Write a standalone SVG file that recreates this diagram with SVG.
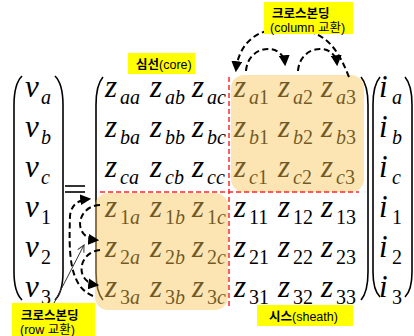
<svg xmlns="http://www.w3.org/2000/svg" width="414" height="336" viewBox="0 0 414 336">
<style>
.m{font-family:"Liberation Serif","DejaVu Serif",serif;font-style:italic;font-size:31px;fill:#000}
.s{font-size:20px}
.d{font-style:normal}
.par{fill:none;stroke:#000;stroke-width:1.6}
.lbl{fill:#FFFF00}
.kt{font-family:"Liberation Sans","Noto Sans CJK KR",sans-serif;font-size:12.5px;fill:#000}
.b{font-weight:bold}
.ov{fill:#F8C554;fill-opacity:0.45}
.red{stroke:#FF2A2A;stroke-width:1.5;stroke-dasharray:5,3;fill:none}
.da{fill:none;stroke:#000;stroke-width:2;stroke-dasharray:6,3.5}
</style>
<defs>
<marker id="ah" markerUnits="userSpaceOnUse" markerWidth="11" markerHeight="11" refX="8" refY="5" orient="auto" viewBox="0 0 10 10">
<path d="M0,0 L10,5 L0,10 z" fill="#000" stroke="none"/>
</marker>
<marker id="oh" markerUnits="userSpaceOnUse" markerWidth="8" markerHeight="8" refX="7" refY="4" orient="auto" viewBox="0 0 8 8">
<path d="M0,0.5 L7,4 L0,7.5" fill="none" stroke="#333" stroke-width="1"/>
</marker>
</defs>
<rect width="414" height="336" fill="#fff"/>

<g id="v-vector">
<path class="par" d="M22,76 C16,82 14,92 14,105 L14,272 C14,285 16,294 22,300"/>
<path class="par" d="M55,76 C61,82 63,92 63,105 L63,272 C63,285 61,294 55,300"/>
<text class="m" x="25" y="97">v<tspan class="s" x="41" y="104">a</tspan></text>
<text class="m" x="25" y="137">v<tspan class="s" x="41" y="144">b</tspan></text>
<text class="m" x="25" y="177">v<tspan class="s" x="41" y="184">c</tspan></text>
<text class="m" x="25" y="217">v<tspan class="s d" x="41" y="224">1</tspan></text>
<text class="m" x="25" y="257">v<tspan class="s d" x="41" y="264">2</tspan></text>
<text class="m" x="25" y="297">v<tspan class="s d" x="41" y="304">3</tspan></text>
</g>

<g id="equals">
<line x1="65" y1="186" x2="85" y2="186" stroke="#000" stroke-width="1.6"/>
<line x1="65" y1="192" x2="85" y2="192" stroke="#000" stroke-width="1.6"/>
</g>

<g id="z-matrix">
<path class="par" d="M103,77 Q96,85 96,105 L96,272 Q96,292 103,300"/>
<path class="par" d="M361,77 Q368,85 368,105 L368,272 Q368,292 361,300"/>
<text class="m" x="105" y="97">z<tspan class="s" x="120" y="104">aa</tspan></text>
<text class="m" x="150" y="97">z<tspan class="s" x="165" y="104">ab</tspan></text>
<text class="m" x="192" y="97">z<tspan class="s" x="207" y="104">ac</tspan></text>
<text class="m" x="234" y="97">z<tspan class="s" x="249" y="104">a<tspan class="d">1</tspan></tspan></text>
<text class="m" x="278" y="97">z<tspan class="s" x="293" y="104">a<tspan class="d">2</tspan></tspan></text>
<text class="m" x="321" y="97">z<tspan class="s" x="336" y="104">a<tspan class="d">3</tspan></tspan></text>

<text class="m" x="105" y="137">z<tspan class="s" x="120" y="144">ba</tspan></text>
<text class="m" x="150" y="137">z<tspan class="s" x="165" y="144">bb</tspan></text>
<text class="m" x="192" y="137">z<tspan class="s" x="207" y="144">bc</tspan></text>
<text class="m" x="234" y="137">z<tspan class="s" x="249" y="144">b<tspan class="d">1</tspan></tspan></text>
<text class="m" x="278" y="137">z<tspan class="s" x="293" y="144">b<tspan class="d">2</tspan></tspan></text>
<text class="m" x="321" y="137">z<tspan class="s" x="336" y="144">b<tspan class="d">3</tspan></tspan></text>

<text class="m" x="105" y="177">z<tspan class="s" x="120" y="184">ca</tspan></text>
<text class="m" x="150" y="177">z<tspan class="s" x="165" y="184">cb</tspan></text>
<text class="m" x="192" y="177">z<tspan class="s" x="207" y="184">cc</tspan></text>
<text class="m" x="234" y="177">z<tspan class="s" x="249" y="184">c<tspan class="d">1</tspan></tspan></text>
<text class="m" x="278" y="177">z<tspan class="s" x="293" y="184">c<tspan class="d">2</tspan></tspan></text>
<text class="m" x="321" y="177">z<tspan class="s" x="336" y="184">c<tspan class="d">3</tspan></tspan></text>

<text class="m" x="105" y="217">z<tspan class="s" x="120" y="224"><tspan class="d">1</tspan>a</tspan></text>
<text class="m" x="150" y="217">z<tspan class="s" x="165" y="224"><tspan class="d">1</tspan>b</tspan></text>
<text class="m" x="192" y="217">z<tspan class="s" x="207" y="224"><tspan class="d">1</tspan>c</tspan></text>
<text class="m" x="234" y="217">z<tspan class="s d" x="249" y="224">11</tspan></text>
<text class="m" x="278" y="217">z<tspan class="s d" x="293" y="224">12</tspan></text>
<text class="m" x="321" y="217">z<tspan class="s d" x="336" y="224">13</tspan></text>

<text class="m" x="105" y="257">z<tspan class="s" x="120" y="264"><tspan class="d">2</tspan>a</tspan></text>
<text class="m" x="150" y="257">z<tspan class="s" x="165" y="264"><tspan class="d">2</tspan>b</tspan></text>
<text class="m" x="192" y="257">z<tspan class="s" x="207" y="264"><tspan class="d">2</tspan>c</tspan></text>
<text class="m" x="234" y="257">z<tspan class="s d" x="249" y="264">21</tspan></text>
<text class="m" x="278" y="257">z<tspan class="s d" x="293" y="264">22</tspan></text>
<text class="m" x="321" y="257">z<tspan class="s d" x="336" y="264">23</tspan></text>

<text class="m" x="105" y="297">z<tspan class="s" x="120" y="304"><tspan class="d">3</tspan>a</tspan></text>
<text class="m" x="150" y="297">z<tspan class="s" x="165" y="304"><tspan class="d">3</tspan>b</tspan></text>
<text class="m" x="192" y="297">z<tspan class="s" x="207" y="304"><tspan class="d">3</tspan>c</tspan></text>
<text class="m" x="234" y="297">z<tspan class="s d" x="249" y="304">31</tspan></text>
<text class="m" x="278" y="297">z<tspan class="s d" x="293" y="304">32</tspan></text>
<text class="m" x="321" y="297">z<tspan class="s d" x="336" y="304">33</tspan></text>
</g>

<g id="i-vector">
<path class="par" d="M380,77 Q373,85 373,105 L373,272 Q373,290 380,297"/>
<path class="par" d="M405,77 Q412,85 412,105 L412,272 Q412,290 405,297"/>
<text class="m" x="379" y="97">i<tspan class="s" x="392" y="104">a</tspan></text>
<text class="m" x="379" y="137">i<tspan class="s" x="392" y="144">b</tspan></text>
<text class="m" x="379" y="177">i<tspan class="s" x="392" y="184">c</tspan></text>
<text class="m" x="379" y="217">i<tspan class="s d" x="392" y="224">1</tspan></text>
<text class="m" x="379" y="257">i<tspan class="s d" x="392" y="264">2</tspan></text>
<text class="m" x="379" y="297">i<tspan class="s d" x="392" y="304">3</tspan></text>
</g>

<g id="sheath-blocks">
<rect class="ov" x="231" y="75" width="133" height="117" rx="13"/>
<rect class="ov" x="95" y="193" width="133" height="117" rx="13"/>
<line class="red" x1="229" y1="77" x2="229" y2="308"/>
<line class="red" x1="100" y1="192" x2="359" y2="192"/>
</g>

<g id="connectors">
<path class="da" d="M100,205 C76,206 72,238 97,240" marker-end="url(#ah)"/>
<path class="da" d="M100,250 C78,252 74,282 97,285" marker-end="url(#ah)"/>
<path class="da" d="M93,296 C68,286 69,250 70,216 C71,205 78,200 89,199" marker-end="url(#ah)"/>
<path class="da" d="M349,77 C340,55 330,33 300,30 L272,30 C250,33 238,50 236,70" marker-end="url(#ah)"/>
<path class="da" d="M246,71 C248,44 283,42 285,64" marker-end="url(#ah)"/>
<path class="da" d="M298,71 C300,44 335,42 337,64" marker-end="url(#ah)"/>
<line x1="53" y1="305" x2="84" y2="245" stroke="#333" stroke-width="1" marker-end="url(#oh)"/>
</g>

<g id="label-core">
<rect class="lbl" x="128" y="53" width="67" height="21"/>
<text class="kt" x="136" y="69"><tspan class="b">심선</tspan>(core)</text>
</g>
<g id="label-column">
<rect class="lbl" x="264" y="2" width="89" height="32"/>
<text class="kt b" x="272" y="18">크로스본딩</text>
<text class="kt" x="270" y="32">(column 교환)</text>
</g>
<g id="label-sheath">
<rect class="lbl" x="257" y="305" width="96" height="21"/>
<text class="kt" x="269" y="321"><tspan class="b">시스</tspan>(sheath)</text>
</g>
<g id="label-row">
<rect class="lbl" x="12" y="303" width="83" height="33"/>
<text class="kt b" x="21" y="320">크로스본딩</text>
<text class="kt" x="20" y="334">(row 교환)</text>
</g>
</svg>
